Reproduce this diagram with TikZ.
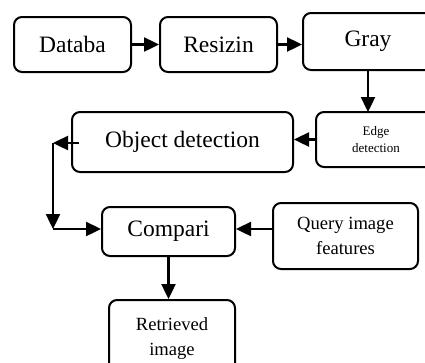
\documentclass[tikz,border=0pt]{standalone}
\usepackage{fontspec}
\setmainfont{Liberation Serif}
\usepackage{tikz}
\usetikzlibrary{arrows.meta}
\usetikzlibrary{calc}
\tikzset{box/.style={draw, line width=2pt, rounded corners=8pt, align=center, inner sep=0pt},
  big/.style={font=\fontsize{23.5}{28}\selectfont},
  mid/.style={font=\fontsize{18.6}{25}\selectfont},
  small/.style={font=\fontsize{13}{17}\selectfont},
  flow/.style={line width=2.4pt, -{Triangle[length=15pt,width=14pt]}}}

\begin{document}
\begin{tikzpicture}[x=1pt, y=-1pt]
  \useasboundingbox (0, 0) rectangle (425, 362);
  % top row
  \node[box, big, minimum width=117, minimum height=55] at (72.5, 44.5) (db) {Databa};
  \node[box, big, minimum width=117, minimum height=55] at (218.5, 44.5) (rs) {Resizin};
  \node[box, big, minimum width=130, minimum height=57] at (368, 41.5) (gray) {Gray};
  \draw[flow] (db.east) -- (rs.west);
  \draw[flow] (rs.east) -- (rs.east -| gray.west);
  \draw[flow] (gray.south) -- (gray.south |- 0, 112);

  % middle row
  \node[box, small, minimum width=120, minimum height=55] at (376, 139.5) (edge) {Edge\\detection};
  \node[box, big, minimum width=221, minimum height=60] at (182.5, 142) (obj) {Object detection};
  \draw[flow] (edge.west) -- (obj.east |- edge.west);

  \coordinate (c1) at (53, 143);
  \coordinate (c2) at (53, 229);
  \draw[flow] ($(obj.west |- c1)+(8, 0)$) -- (c1);
  \draw[flow] (c1) -- (c2);

  % bottom rows
  \node[box, big, minimum width=133, minimum height=49] at (168.5, 231.5) (cmp) {Compari};
  \node[box, mid, minimum width=145, minimum height=66] at (345.5, 236) (query) {Query image\\features};
  \node[box, mid, minimum width=126, minimum height=78] at (172, 339) (ret) {Retrieved\\image};
  \draw[flow] (c2) -- (c2 -| cmp.west);
  \draw[flow] (query.west |- c2) -- (cmp.east |- c2);
  \draw[flow] (cmp.south) -- (cmp.south |- ret.north);
\end{tikzpicture}
\end{document}
